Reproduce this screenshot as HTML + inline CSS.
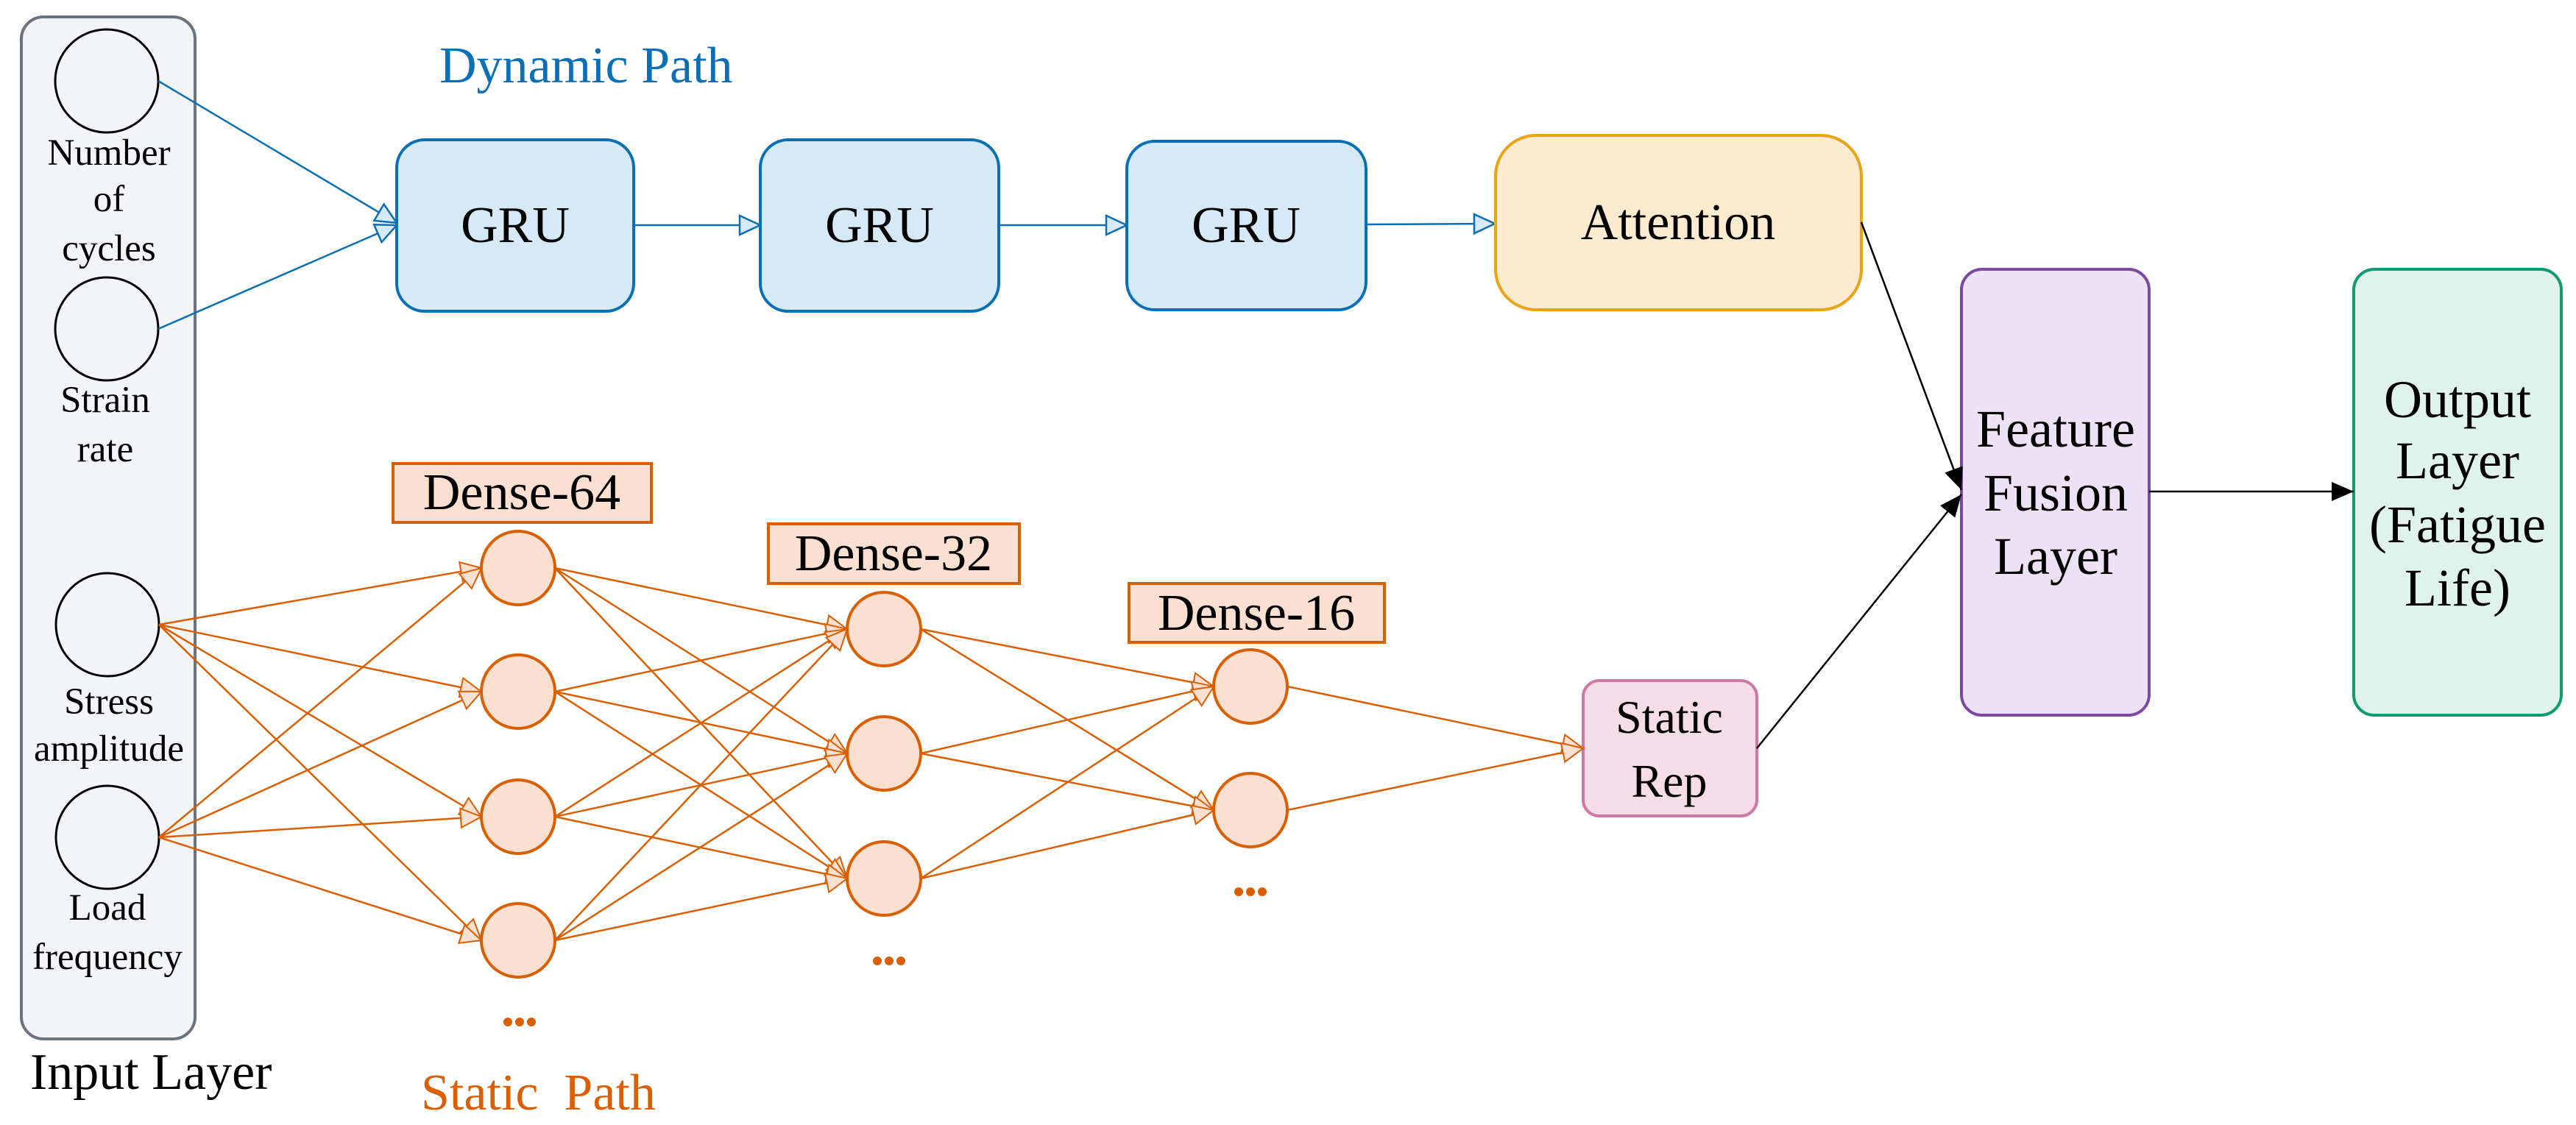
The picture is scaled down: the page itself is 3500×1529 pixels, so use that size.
<!DOCTYPE html>
<html><head><meta charset="utf-8"><style>
html,body{margin:0;padding:0;background:#fff;}
svg{display:block;}
text{font-family:"Liberation Serif",serif;}
</style></head><body>
<svg width="3500" height="1529" viewBox="0 0 3500 1529" xmlns="http://www.w3.org/2000/svg">
<defs>
<marker id="ab" markerUnits="userSpaceOnUse" markerWidth="40" markerHeight="40" refX="30" refY="15" orient="auto">
<path d="M2,2 L30,15 L2,28 Z" fill="#d6e9f7" stroke="#0a6fb5" stroke-width="2.5"/></marker>
<marker id="ao" markerUnits="userSpaceOnUse" markerWidth="40" markerHeight="40" refX="30" refY="15" orient="auto">
<path d="M2,2 L30,15 L2,28 Z" fill="#fbe0d2" stroke="#d95f02" stroke-width="2"/></marker>
<marker id="ak" markerUnits="userSpaceOnUse" markerWidth="40" markerHeight="40" refX="30" refY="13" orient="auto">
<path d="M0,0 L30,13 L0,26 Z" fill="#000"/></marker>
</defs>

<!-- Input container -->
<rect x="29" y="23" width="236" height="1389" rx="30" fill="#f2f4f7" stroke="#6b7280" stroke-width="4"/>
<g fill="none" stroke="#000" stroke-width="3">
<circle cx="145" cy="110" r="70"/><circle cx="145" cy="447" r="70"/>
<circle cx="146" cy="849" r="70"/><circle cx="146" cy="1138" r="70"/>
</g>
<g font-size="51" text-anchor="middle" fill="#000">
<text x="148" y="224">Number</text><text x="148" y="287">of</text><text x="148" y="354">cycles</text>
<text x="143" y="560">Strain</text><text x="143" y="627">rate</text>
<text x="148" y="970">Stress</text><text x="148" y="1034">amplitude</text>
<text x="146" y="1250">Load</text><text x="146" y="1317">frequency</text>
</g>
<text x="41" y="1480" font-size="70" fill="#000">Input Layer</text>

<text x="597" y="112" font-size="70" fill="#0a6fb5">Dynamic Path</text>
<text x="572" y="1508" font-size="70" fill="#d95f02" style="white-space:pre">Static  Path</text>

<!-- blue connectors -->
<g stroke="#0a6fb5" stroke-width="2.5" fill="none" marker-end="url(#ab)">
<line x1="215" y1="110" x2="539" y2="303"/>
<line x1="215" y1="447" x2="539" y2="306"/>
<line x1="861" y1="306" x2="1033" y2="306"/>
<line x1="1357" y1="306" x2="1531" y2="306"/>
<line x1="1856" y1="305" x2="2031" y2="304"/>
</g>

<!-- GRUs -->
<g fill="#d6e9f7" stroke="#0a6fb5" stroke-width="4">
<rect x="539" y="190" width="322" height="233" rx="38"/>
<rect x="1033" y="190" width="324" height="233" rx="38"/>
<rect x="1531" y="192" width="325" height="229" rx="38"/>
</g>
<g font-size="70" text-anchor="middle" fill="#000">
<text x="700" y="329">GRU</text><text x="1195" y="329">GRU</text><text x="1693" y="329">GRU</text>
</g>

<rect x="2032" y="184" width="497" height="237" rx="55" fill="#fcebcf" stroke="#e8a317" stroke-width="4"/>
<text x="2280" y="325" font-size="70" text-anchor="middle">Attention</text>

<rect x="2665" y="366" width="255" height="606" rx="28" fill="#ede1f5" stroke="#7b4aa0" stroke-width="4"/>
<g font-size="72" text-anchor="middle"><text x="2793" y="607">Feature</text><text x="2793" y="694">Fusion</text><text x="2793" y="780">Layer</text></g>

<rect x="3198" y="366" width="282" height="606" rx="28" fill="#dff3ec" stroke="#119a72" stroke-width="4"/>
<g font-size="72" text-anchor="middle"><text x="3339" y="567">Output</text><text x="3339" y="650">Layer</text><text x="3339" y="737">(Fatigue</text><text x="3339" y="823">Life)</text></g>

<rect x="2151" y="925" width="236" height="184" rx="22" fill="#f5dde8" stroke="#cc79a7" stroke-width="4"/>
<g font-size="64" text-anchor="middle"><text x="2268" y="996">Static</text><text x="2268" y="1083">Rep</text></g>

<!-- black connectors -->
<g stroke="#000" stroke-width="2.5" marker-end="url(#ak)">
<line x1="2529" y1="302" x2="2665" y2="666"/>
<line x1="2387" y1="1017" x2="2665" y2="672"/>
<line x1="2920" y1="668" x2="3198" y2="668"/>
</g>

<!-- orange network connectors -->
<g stroke="#d95f02" stroke-width="2.5" fill="none" marker-end="url(#ao)">
<line x1="216" y1="849" x2="654" y2="772"/><line x1="216" y1="849" x2="654" y2="940"/>
<line x1="216" y1="849" x2="654" y2="1110"/><line x1="216" y1="849" x2="654" y2="1278"/>
<line x1="216" y1="1138" x2="654" y2="772"/><line x1="216" y1="1138" x2="654" y2="940"/>
<line x1="216" y1="1138" x2="654" y2="1110"/><line x1="216" y1="1138" x2="654" y2="1278"/>

<line x1="754" y1="772" x2="1151" y2="855"/><line x1="754" y1="772" x2="1151" y2="1024"/><line x1="754" y1="772" x2="1151" y2="1194"/>
<line x1="754" y1="940" x2="1151" y2="855"/><line x1="754" y1="940" x2="1151" y2="1024"/><line x1="754" y1="940" x2="1151" y2="1194"/>
<line x1="754" y1="1110" x2="1151" y2="855"/><line x1="754" y1="1110" x2="1151" y2="1024"/><line x1="754" y1="1110" x2="1151" y2="1194"/>
<line x1="754" y1="1278" x2="1151" y2="855"/><line x1="754" y1="1278" x2="1151" y2="1024"/><line x1="754" y1="1278" x2="1151" y2="1194"/>

<line x1="1251" y1="855" x2="1649" y2="933"/><line x1="1251" y1="855" x2="1649" y2="1101"/>
<line x1="1251" y1="1024" x2="1649" y2="933"/><line x1="1251" y1="1024" x2="1649" y2="1101"/>
<line x1="1251" y1="1194" x2="1649" y2="933"/><line x1="1251" y1="1194" x2="1649" y2="1101"/>

<line x1="1749" y1="933" x2="2151" y2="1017"/><line x1="1749" y1="1101" x2="2151" y2="1017"/>
</g>

<!-- dense nodes -->
<g fill="#fbe0d2" stroke="#d95f02" stroke-width="4">
<circle cx="704" cy="772" r="50"/><circle cx="704" cy="940" r="50"/><circle cx="704" cy="1110" r="50"/><circle cx="704" cy="1278" r="50"/>
<circle cx="1201" cy="855" r="50"/><circle cx="1201" cy="1024" r="50"/><circle cx="1201" cy="1194" r="50"/>
<circle cx="1699" cy="933" r="50"/><circle cx="1699" cy="1101" r="50"/>
<rect x="534" y="630" width="351" height="80"/>
<rect x="1044" y="712" width="341" height="81"/>
<rect x="1534" y="793" width="347" height="80"/>
</g>
<g font-size="70" text-anchor="middle">
<text x="709" y="692">Dense-64</text><text x="1214" y="775">Dense-32</text><text x="1707" y="856">Dense-16</text>
</g>
<g fill="#d95f02">
<circle cx="690" cy="1389" r="6"/><circle cx="706" cy="1389" r="6"/><circle cx="722" cy="1389" r="6"/>
<circle cx="1192" cy="1306" r="6"/><circle cx="1208" cy="1306" r="6"/><circle cx="1224" cy="1306" r="6"/>
<circle cx="1683" cy="1212" r="6"/><circle cx="1699" cy="1212" r="6"/><circle cx="1715" cy="1212" r="6"/>
</g>
</svg>
</body></html>
